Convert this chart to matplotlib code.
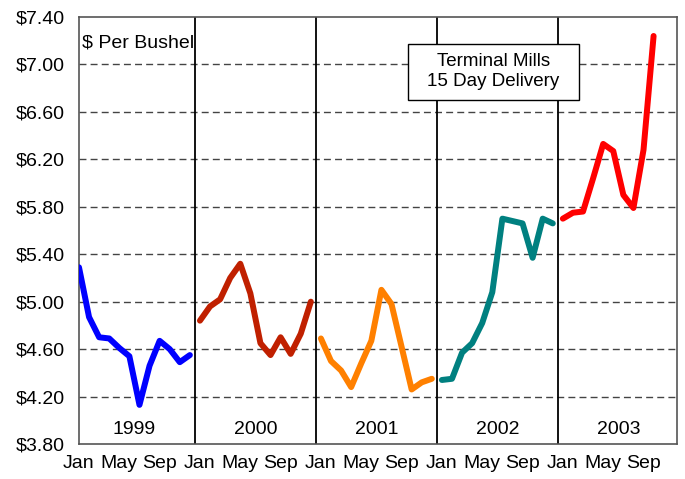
# coding:utf-8
# 终端磨坊小麦价格走势图 (1999-2003)

import numpy as np
import matplotlib.pyplot as plt
from matplotlib.patches import Rectangle

plt.rcParams['font.family'] = ['Liberation Sans', 'DejaVu Sans']

# 数据：每年的月度价格
years = ["1999", "2000", "2001", "2002", "2003"]
p1999 = [5.29, 4.87, 4.70, 4.69, 4.61, 4.54, 4.13, 4.46, 4.67, 4.60, 4.49, 4.55]
p2000 = [4.84, 4.96, 5.02, 5.20, 5.32, 5.07, 4.65, 4.55, 4.70, 4.56, 4.73, 5.00]
p2001 = [4.69, 4.50, 4.42, 4.28, 4.48, 4.67, 5.10, 4.98, 4.62, 4.26, 4.32, 4.35]
p2002 = [4.34, 4.35, 4.57, 4.65, 4.82, 5.08, 5.70, 5.68, 5.66, 5.37, 5.70, 5.66]
p2003 = [5.70, 5.75, 5.76, 6.04, 6.33, 6.27, 5.90, 5.79, 6.28, 7.24]
prices = [p1999, p2000, p2001, p2002, p2003]
colors = ["#0000FF", "#C02000", "#FF8000", "#008080", "#FF0000"]
month_labels = ["Jan", "May", "Sep"]
yticks = [3.80, 4.20, 4.60, 5.00, 5.40, 5.80, 6.20, 6.60, 7.00, 7.40]

fig = plt.figure(figsize=(6.85, 4.79), dpi=100)
ax = fig.add_axes([0.1153, 0.073, 0.988 - 0.1153, 0.9645 - 0.073])

# 虚线网格
for v in yticks[1:-1]:
    ax.axhline(v, color="#444444", lw=1.0, linestyle=(0, (5, 3)), zorder=1)

# 年份分隔线
for k in range(1, len(years)):
    ax.axvline(12 * k - 0.5, color="black", lw=1.3, zorder=2)

# 每年一条线
for k, p in enumerate(prices):
    x = np.arange(len(p)) + 12 * k
    ax.plot(x, p, color=colors[k], lw=4.3, solid_capstyle="round",
            solid_joinstyle="round", zorder=3)
    ax.text(12 * k + 5.5, 3.92, years[k], ha="center", va="center", fontsize=14)

ax.set_xlim(0, 59.3)
ax.set_ylim(3.80, 7.40)
ax.set_yticks(yticks)
ax.set_yticklabels(["$%.2f" % v for v in yticks], fontsize=14)
xt = []
xl = []
for k in range(len(years)):
    for j, m in enumerate(month_labels):
        xt.append(12 * k + 4 * j)
        xl.append(m)
ax.set_xticks(xt)
ax.set_xticklabels(xl, fontsize=14)
ax.tick_params(axis="x", length=0, pad=8)
ax.tick_params(axis="y", length=0, pad=10)
for s in ax.spines.values():
    s.set_color("#555555")
    s.set_linewidth(1.2)

# 标注
ax.text(0.3, 7.18, "$ Per Bushel", fontsize=14, ha="left", va="center")
ax.add_patch(Rectangle((0.550, 0.806), 0.286, 0.131, transform=ax.transAxes,
                       facecolor="white", edgecolor="black", lw=1.0, zorder=4))
ax.text(0.693, 0.872, "Terminal Mills\n15 Day Delivery", fontsize=13.5,
        ha="center", va="center", linespacing=1.25, transform=ax.transAxes,
        zorder=5)

plt.savefig("out.png", dpi=100)
